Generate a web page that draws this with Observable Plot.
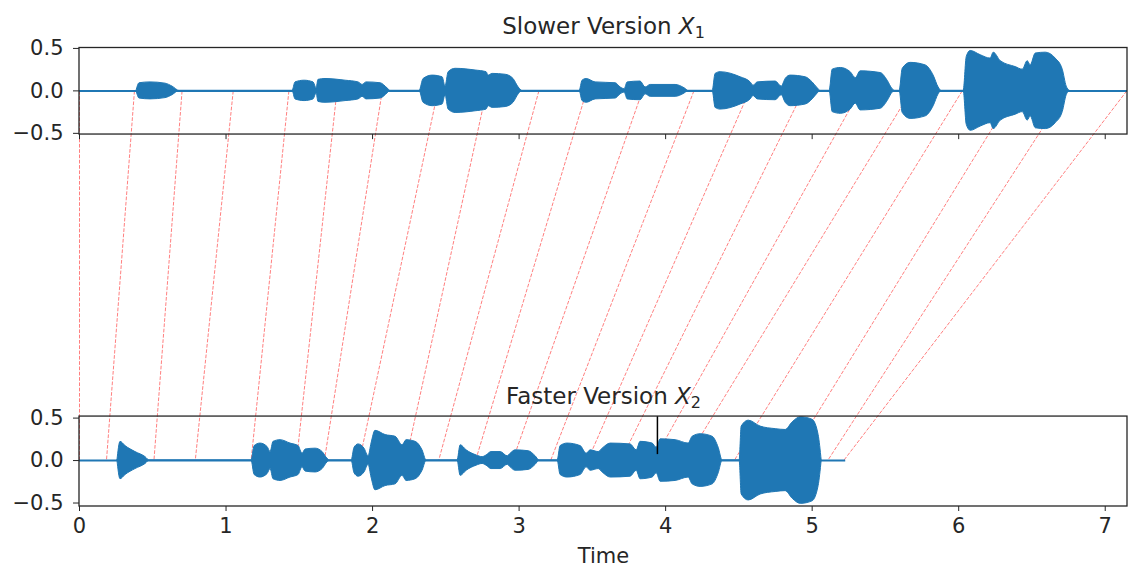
<!DOCTYPE html>
<html><head><meta charset="utf-8">
<script src="https://cdn.jsdelivr.net/npm/d3@7"></script>
<script src="https://cdn.jsdelivr.net/npm/@observablehq/plot@0.6"></script>
<style>body{margin:0;background:#fff;} #chart svg{display:block;}</style>
</head><body><div id="chart"></div>
<script>
// ---- data ----
// waveform envelopes [time (s), amplitude]
const slowEnvelope = [
  [0.389,0],[0.41,0.09],[0.485,0.1],[0.587,0.085],[0.635,0.05],[0.683,0],
  [1.454,0],[1.474,0.1],[1.536,0.12],[1.597,0.1],[1.618,0.03],[1.631,0.13],[1.679,0.14],[1.816,0.12],[1.904,0.1],[1.932,0.07],[1.959,0.1],[2.055,0.09],[2.102,0.03],[2.123,0],
  [2.321,0],[2.348,0.14],[2.41,0.18],[2.478,0.16],[2.498,0.05],[2.519,0.22],[2.567,0.26],[2.703,0.24],[2.778,0.22],[2.792,0.18],[2.819,0.2],[2.908,0.19],[2.962,0.14],[2.997,0.04],[3.024,0],
  [3.413,0],[3.433,0.12],[3.461,0.14],[3.522,0.1],[3.659,0.09],[3.693,0.04],[3.72,0.02],[3.741,0.1],[3.829,0.11],[3.863,0.04],[3.898,0.07],[4.068,0.07],[4.13,0.03],[4.157,0],
  [4.321,0],[4.341,0.2],[4.375,0.22],[4.512,0.16],[4.58,0.1],[4.6,0.06],[4.628,0.1],[4.751,0.11],[4.792,0.05],[4.819,0.14],[4.853,0.18],[4.956,0.16],[5.003,0.1],[5.038,0.03],[5.058,0],
  [5.119,0],[5.14,0.25],[5.195,0.27],[5.263,0.22],[5.297,0.15],[5.331,0.23],[5.468,0.21],[5.515,0.12],[5.549,0.02],[5.57,0],
  [5.597,0],[5.618,0.26],[5.672,0.33],[5.775,0.3],[5.829,0.18],[5.863,0.04],[5.884,0],
  [6.034,0],[6.055,0.4],[6.082,0.47],[6.15,0.42],[6.218,0.38],[6.239,0.45],[6.287,0.35],[6.389,0.28],[6.437,0.25],[6.471,0.35],[6.491,0.3],[6.526,0.44],[6.594,0.45],[6.662,0.38],[6.71,0.25],[6.737,0.05],[6.758,0]
];
const fastEnvelope = [
  [0.259,0],[0.28,0.22],[0.314,0.17],[0.382,0.1],[0.451,0.04],[0.478,0],
  [1.174,0],[1.195,0.17],[1.235,0.2],[1.283,0.16],[1.304,0.1],[1.324,0.22],[1.372,0.24],[1.44,0.2],[1.495,0.17],[1.522,0.08],[1.543,0.13],[1.611,0.14],[1.659,0.1],[1.693,0.02],[1.713,0],
  [1.857,0],[1.877,0.15],[1.904,0.19],[1.945,0.14],[1.973,0.05],[1.993,0.2],[2.02,0.35],[2.089,0.3],[2.157,0.28],[2.205,0.18],[2.232,0.24],[2.294,0.22],[2.341,0.12],[2.369,0],
  [2.58,0],[2.601,0.18],[2.642,0.12],[2.71,0.06],[2.751,0.04],[2.778,0.06],[2.812,0.1],[2.874,0.1],[2.922,0.05],[2.942,0.08],[2.976,0.12],[3.065,0.11],[3.113,0.05],[3.14,0],
  [3.263,0],[3.283,0.17],[3.331,0.2],[3.42,0.17],[3.461,0.08],[3.488,0.12],[3.543,0.1],[3.57,0.14],[3.625,0.2],[3.761,0.19],[3.802,0.12],[3.829,0.22],[3.911,0.2],[3.939,0.15],[3.966,0.25],[4.068,0.24],[4.157,0.2],[4.184,0.28],[4.239,0.31],[4.321,0.28],[4.362,0.15],[4.389,0],
  [4.505,0],[4.519,0.4],[4.567,0.47],[4.648,0.4],[4.751,0.37],[4.819,0.36],[4.867,0.45],[4.922,0.51],[5.003,0.48],[5.044,0.3],[5.065,0]
];
// alignment (warping path) sample points
const slowLinkTimes = [0,0.375,0.70,1.049,1.429,1.757,2.066,2.446,2.778,3.135,3.461,3.842,4.193,4.572,4.941,5.326,5.675,6.024,6.386,6.737,7.147];
const fastLinkTimes = [0,0.184,0.508,0.790,1.171,1.481,1.671,1.911,2.227,2.451,2.703,2.956,3.215,3.468,3.693,3.918,4.137,4.468,4.837,5.106,5.215];
const slowDuration = 7.152;
const fastDuration = 5.229;
const markerTimes = [3.944];
const xTicks = [0,1,2,3,4,5,6,7];
const yTicks = [-0.5, 0, 0.5];
const yTickLabels = ["−0.5", "0.0", "0.5"];
const titles = ["Slower Version X₁", "Faster Version X₂"];
const xLabel = "Time";

// ---- layout ----
const OFF = 4.353;            // vertical offset of the upper panel in the shared y scale
const topPanel = {y1: OFF - 0.514, y2: OFF + 0.505};
const botPanel = {y1: -0.541, y2: 0.518};
const blue = "#1f77b4";
const ink = "#262626";

const links = slowLinkTimes.map((s, i) => ({s, f: fastLinkTimes[i]}));
const slowRows = slowEnvelope.map(([t, a]) => ({t, a}));
const fastRows = fastEnvelope.map(([t, a]) => ({t, a}));
const allYTicks = [...yTicks, ...yTicks.map(v => v + OFF)];
const tickLabel = v => {
  const base = v > 2 ? v - OFF : v;
  const i = yTicks.findIndex(y => Math.abs(y - base) < 1e-6);
  return yTickLabels[i];
};

const plot = Plot.plot({
  width: 1129, height: 567,
  marginLeft: 79, marginRight: 2, marginTop: 47.5, marginBottom: 61,
  style: {fontFamily: "'DejaVu Sans', sans-serif", fontSize: "21px", color: ink, background: "#fff"},
  x: {domain: [0, slowDuration], label: null},
  y: {domain: [botPanel.y1, topPanel.y2], label: null},
  marks: [
    // alignment connections
    Plot.link(links, {x1: "s", y1: () => OFF, x2: "f", y2: () => 0, stroke: "red", strokeOpacity: 0.5, strokeWidth: 1, strokeDasharray: "3.7,1.6"}),
    // baselines
    Plot.ruleY([OFF], {x1: 0, x2: slowDuration, stroke: blue, strokeWidth: 2}),
    Plot.ruleY([0], {x1: 0, x2: fastDuration, stroke: blue, strokeWidth: 2}),
    // waveforms
    Plot.areaY(slowRows, {x: "t", y1: d => OFF - d.a, y2: d => OFF + d.a, curve: "monotone-x", fill: blue, stroke: blue, strokeWidth: 1}),
    Plot.areaY(fastRows, {x: "t", y1: d => -d.a, y2: d => d.a, curve: "monotone-x", fill: blue, stroke: blue, strokeWidth: 1}),
    Plot.ruleX(markerTimes, {y1: 0.07, y2: botPanel.y2, stroke: "#000", strokeWidth: 1.5}),
    // panel frames
    Plot.rect([topPanel, botPanel], {x1: 0, x2: slowDuration, y1: "y1", y2: "y2", fill: "none", stroke: ink, strokeWidth: 1.3}),
    // unlabeled ticks of the upper panel
    Plot.ruleX(xTicks, {y1: topPanel.y1 - 0.06, y2: topPanel.y1, stroke: ink, strokeWidth: 1}),
    // axes
    Plot.axisX({ticks: xTicks, tickSize: 5, tickPadding: 7, tickFormat: d => String(d), label: null, stroke: ink}),
    Plot.axisY({ticks: allYTicks, tickSize: 6, tickPadding: 10, tickFormat: tickLabel, label: null, stroke: ink}),
    // titles and label
    Plot.text([titles[0]], {frameAnchor: "top", dy: -21.5, lineAnchor: "middle", fontSize: 23, fill: ink}),
    Plot.text([titles[1]], {x: slowDuration / 2, y: botPanel.y2, dy: -20, lineAnchor: "middle", fontSize: 23, fill: ink}),
    Plot.text([xLabel], {frameAnchor: "bottom", dy: 50, lineAnchor: "middle", fontSize: 21, fill: ink})
  ]
});
document.getElementById("chart").append(plot);

// math-style titles: italic X with a subscript digit
plot.querySelectorAll("text").forEach(t => {
  const m = /^(.*)X([₁₂])$/.exec(t.textContent);
  if (!m) return;
  const sub = m[2] === "₁" ? "1" : "2";
  t.textContent = "";
  const ns = "http://www.w3.org/2000/svg";
  const a = document.createElementNS(ns, "tspan"); a.textContent = m[1];
  const b = document.createElementNS(ns, "tspan"); b.textContent = "X"; b.setAttribute("font-style", "italic");
  const c = document.createElementNS(ns, "tspan"); c.textContent = sub; c.setAttribute("font-size", "16"); c.setAttribute("dy", "4");
  t.append(a, b, c);
});
</script>
</body></html>
